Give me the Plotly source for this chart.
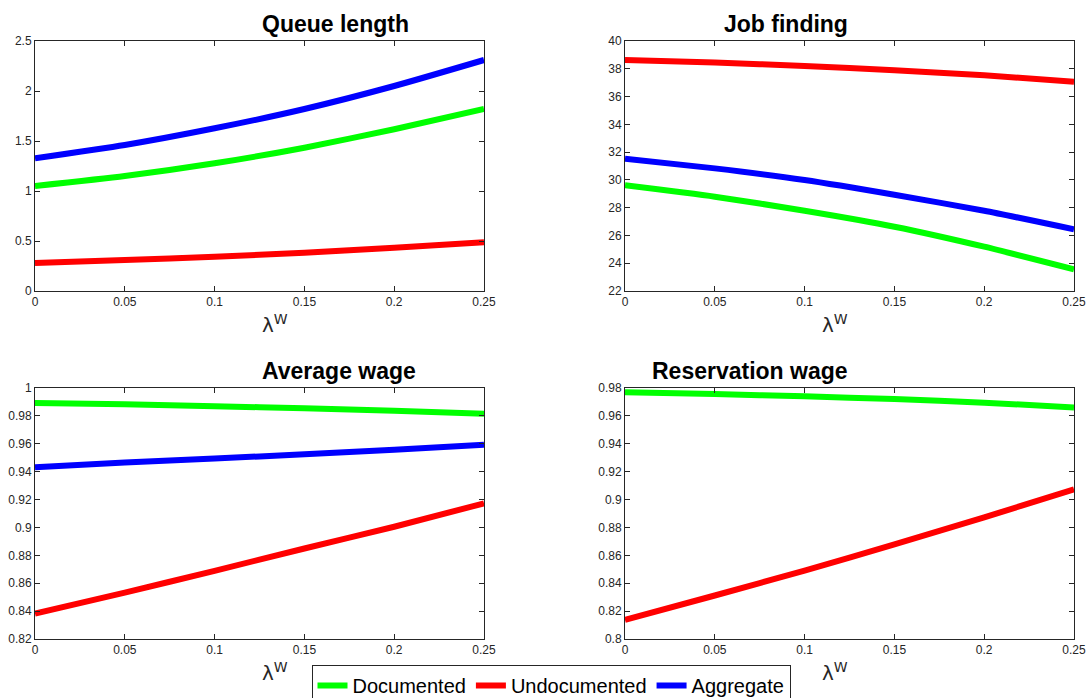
import plotly.graph_objects as go

lam = [0.0, 0.05, 0.10, 0.15, 0.20, 0.25]

queue_doc = [1.05, 1.15, 1.277, 1.433, 1.617, 1.82]
queue_undoc = [0.28, 0.31, 0.343, 0.383, 0.433, 0.487]
queue_agg = [1.327, 1.46, 1.627, 1.82, 2.05, 2.31]

job_doc = [29.61, 28.79, 27.78, 26.63, 25.19, 23.56]
job_undoc = [38.63, 38.46, 38.20, 37.90, 37.53, 37.07]
job_agg = [31.53, 30.83, 29.99, 28.93, 27.78, 26.44]

avgw_doc = [0.9892, 0.9883, 0.9870, 0.9854, 0.9837, 0.9815]
avgw_undoc = [0.8382, 0.8533, 0.8689, 0.8849, 0.9005, 0.9173]
avgw_agg = [0.9432, 0.9466, 0.9494, 0.9525, 0.9557, 0.9593]

resw_doc = [0.9769, 0.9757, 0.9740, 0.9721, 0.9695, 0.9661]
resw_undoc = [0.8137, 0.8312, 0.8491, 0.8678, 0.8872, 0.9074]

titles = ["Queue length", "Job finding", "Average wage", "Reservation wage"]
series_names = ["Documented", "Undocumented", "Aggregate"]
colors = ["#00ff00", "#ff0000", "#0000ff"]

x_ticks = [0, 0.05, 0.1, 0.15, 0.2, 0.25]
x_ticktext = ["0", "0.05", "0.1", "0.15", "0.2", "0.25"]

panels = [
    dict(data=[queue_doc, queue_undoc, queue_agg], yr=[0, 2.5],
         yt=[0, 0.5, 1, 1.5, 2, 2.5], ytt=["0", "0.5", "1", "1.5", "2", "2.5"]),
    dict(data=[job_doc, job_undoc, job_agg], yr=[22, 40],
         yt=list(range(22, 41, 2)), ytt=[str(v) for v in range(22, 41, 2)]),
    dict(data=[avgw_doc, avgw_undoc, avgw_agg], yr=[0.82, 1.0],
         yt=[0.82, 0.84, 0.86, 0.88, 0.9, 0.92, 0.94, 0.96, 0.98, 1.0],
         ytt=["0.82", "0.84", "0.86", "0.88", "0.9", "0.92", "0.94", "0.96", "0.98", "1"]),
    dict(data=[resw_doc, resw_undoc, None], yr=[0.8, 0.98],
         yt=[0.8, 0.82, 0.84, 0.86, 0.88, 0.9, 0.92, 0.94, 0.96, 0.98],
         ytt=["0.8", "0.82", "0.84", "0.86", "0.88", "0.9", "0.92", "0.94", "0.96", "0.98"]),
]

W, H = 1088, 698
xdom = [[35 / W, 484 / W], [625 / W, 1074 / W]]
ydom = [[1 - 291 / H, 1 - 41 / H], [1 - 639 / H, 1 - 388 / H]]

fig = go.Figure()
axfont = dict(family="Liberation Sans, Arial, sans-serif", size=12, color="#262626")
annotations = []
for i, p in enumerate(panels):
    r, c = divmod(i, 2)
    n = "" if i == 0 else str(i + 1)
    for k, vals in enumerate(p["data"]):
        if vals is None:
            continue
        fig.add_trace(go.Scatter(
            x=lam, y=vals, mode="lines", name=series_names[k],
            line=dict(color=colors[k], width=6, shape="spline", smoothing=0.6),
            xaxis="x" + n, yaxis="y" + n, showlegend=(i == 0),
        ))
    common = dict(showline=True, linecolor="#262626", linewidth=1, mirror="ticks",
                  ticks="inside", ticklen=5, tickcolor="#262626", tickwidth=1,
                  showgrid=False, zeroline=False, tickfont=axfont, automargin=False)
    fig.layout["xaxis" + n] = dict(domain=xdom[c], range=[0, 0.25], tickvals=x_ticks,
                                   ticktext=x_ticktext, anchor="y" + n, **common)
    fig.layout["yaxis" + n] = dict(domain=ydom[r], range=p["yr"], tickvals=p["yt"],
                                   ticktext=p["ytt"], anchor="x" + n, **common)
    xc = (xdom[c][0] + xdom[c][1]) / 2
    annotations.append(dict(text="<b>" + titles[i] + "</b>", x=xc, y=ydom[r][1],
                            xref="paper", yref="paper", yanchor="bottom", yshift=2,
                            showarrow=False,
                            font=dict(family="Liberation Sans, Arial, sans-serif", size=23, color="black")))
    annotations.append(dict(text="λ<sup>W</sup>", x=xc, y=ydom[r][0],
                            xref="paper", yref="paper", yanchor="top", yshift=-18,
                            showarrow=False,
                            font=dict(family="DejaVu Sans, sans-serif", size=20, color="#262626")))

fig.update_layout(
    width=W, height=H, margin=dict(l=0, r=0, t=0, b=0, autoexpand=False),
    paper_bgcolor="white", plot_bgcolor="white",
    annotations=annotations,
    legend=dict(orientation="h", x=551 / W, xanchor="center", y=1 - 665 / H, yanchor="top",
                bordercolor="#262626", borderwidth=1, bgcolor="white",
                font=dict(family="Liberation Sans, Arial, sans-serif", size=20, color="black"),
                tracegroupgap=0),
)
fig.write_html("out.html")
